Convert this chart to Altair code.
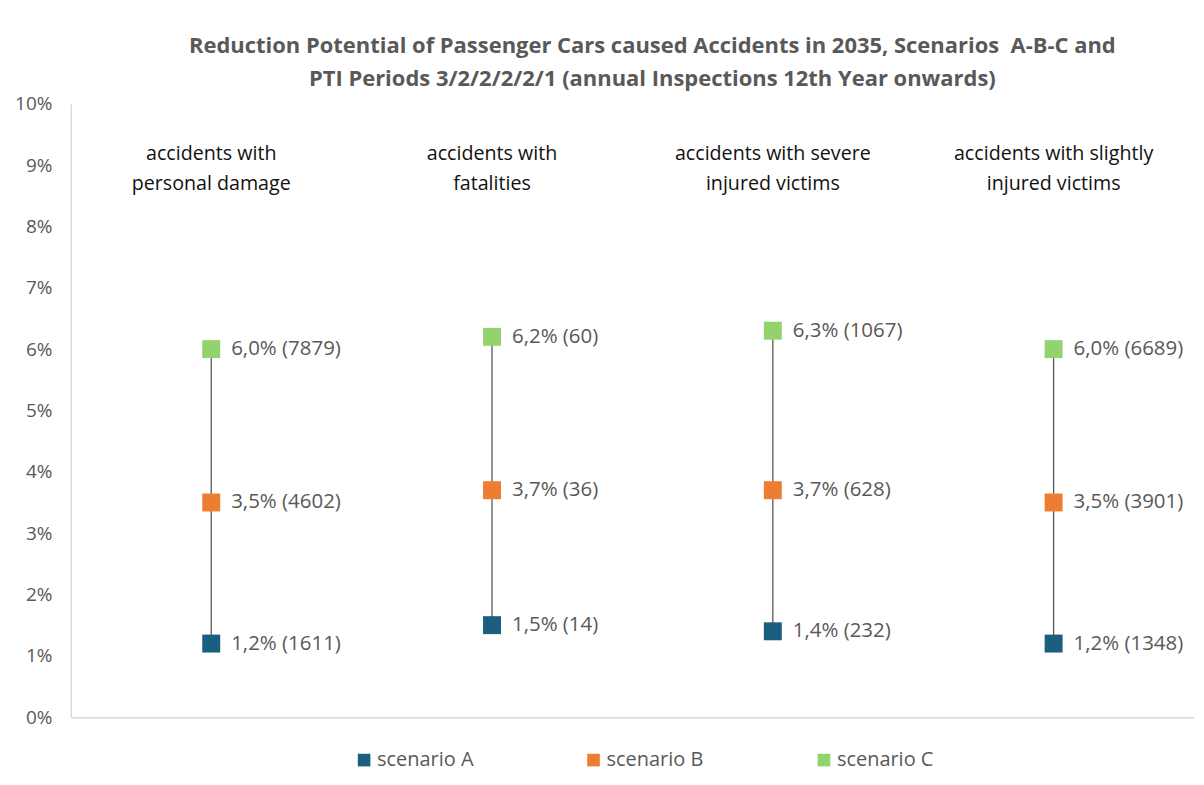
import altair as alt
import pandas as pd

categories = [
    "accidents with personal damage",
    "accidents with fatalities",
    "accidents with severe injured victims",
    "accidents with slightly injured victims",
]
category_lines = [
    "accidents with\npersonal damage",
    "accidents with\nfatalities",
    "accidents with severe\ninjured victims",
    "accidents with slightly\ninjured victims",
]
scenarios = ["scenario A", "scenario B", "scenario C"]
pct_a = [1.2, 1.5, 1.4, 1.2]
pct_b = [3.5, 3.7, 3.7, 3.5]
pct_c = [6.0, 6.2, 6.3, 6.0]
cnt_a = [1611, 14, 232, 1348]
cnt_b = [4602, 36, 628, 3901]
cnt_c = [7879, 60, 1067, 6689]
colors = ["#1b5e80", "#ed7d31", "#92d36e"]

FONT = "Open Sans"
GRAY = "#595959"

rows = []
for i, cat in enumerate(categories):
    for s, p, c in zip(scenarios, [pct_a, pct_b, pct_c], [cnt_a, cnt_b, cnt_c]):
        rows.append({
            "category": cat,
            "scenario": s,
            "pct": p[i],
            "label": f"{p[i]:.1f}".replace(".", ",") + f"% ({c[i]})",
        })
df = pd.DataFrame(rows)

rng = pd.DataFrame({"category": categories, "lo": pct_a, "hi": pct_c})
cat_df = pd.DataFrame({"category": categories, "text": category_lines, "ypos": [9.18] * 4})

xenc = alt.X("category:N", sort=categories,
             scale=alt.Scale(paddingInner=0, paddingOuter=0),
             axis=alt.Axis(title=None, labels=False, ticks=False,
                           domainColor="#d9d9d9", domainWidth=1.5))
yscale = alt.Scale(domain=[0, 10], nice=False)

rule = alt.Chart(rng).mark_rule(color=GRAY, strokeWidth=1.3).encode(
    x=xenc,
    y=alt.Y("lo:Q", scale=yscale,
            axis=alt.Axis(title=None, values=list(range(0, 11)),
                          labelExpr="datum.value + '%'", ticks=False,
                          grid=False, domainColor="#d9d9d9", domainWidth=1.5,
                          labelPadding=19, labelFontSize=19, labelColor=GRAY,
                          labelFont=FONT)),
    y2="hi:Q",
)

points = alt.Chart(df).mark_point(shape="square", filled=True, size=324, opacity=1).encode(
    x=alt.X("category:N", sort=categories),
    y=alt.Y("pct:Q", scale=yscale),
    color=alt.Color("scenario:N", sort=scenarios,
                    scale=alt.Scale(domain=scenarios, range=colors),
                    legend=alt.Legend(title=None, orient="none", direction="horizontal",
                                      legendX=284, legendY=648,
                                      symbolType="square", symbolSize=160,
                                      symbolStrokeWidth=0,
                                      labelFont=FONT, labelFontSize=20,
                                      labelColor=GRAY, columnPadding=110,
                                      labelOffset=3)),
)

labels = alt.Chart(df).mark_text(align="left", baseline="middle", dx=20,
                                 font=FONT, fontSize=20.5, color=GRAY).encode(
    x=alt.X("category:N", sort=categories),
    y=alt.Y("pct:Q", scale=yscale),
    text="label:N",
)

cat_labels = alt.Chart(cat_df).mark_text(align="center", baseline="middle",
                                         lineBreak="\n", lineHeight=30,
                                         font=FONT, fontSize=19.7, color="#111111").encode(
    x=alt.X("category:N", sort=categories),
    y=alt.Y("ypos:Q", scale=yscale),
    text="text:N",
)

chart = alt.layer(rule, points, labels, cat_labels).properties(
    width=1126,
    height=615,
    title=alt.TitleParams(
        text=["Reduction Potential of Passenger Cars caused Accidents in 2035, Scenarios\u00a0 A-B-C and",
              "PTI Periods 3/2/2/2/2/1 (annual Inspections 12th Year onwards)"],
        font=FONT, fontSize=22, fontWeight="bold", color=GRAY,
        anchor="middle", lineHeight=33, offset=4, dx=20,
    ),
    autosize=alt.AutoSizeParams(type="none"),
    padding={"left": 63, "top": 95, "right": 2, "bottom": 60},
).configure_view(stroke=None)

chart.save("out.html", embed_options={"renderer": "svg", "actions": False})
